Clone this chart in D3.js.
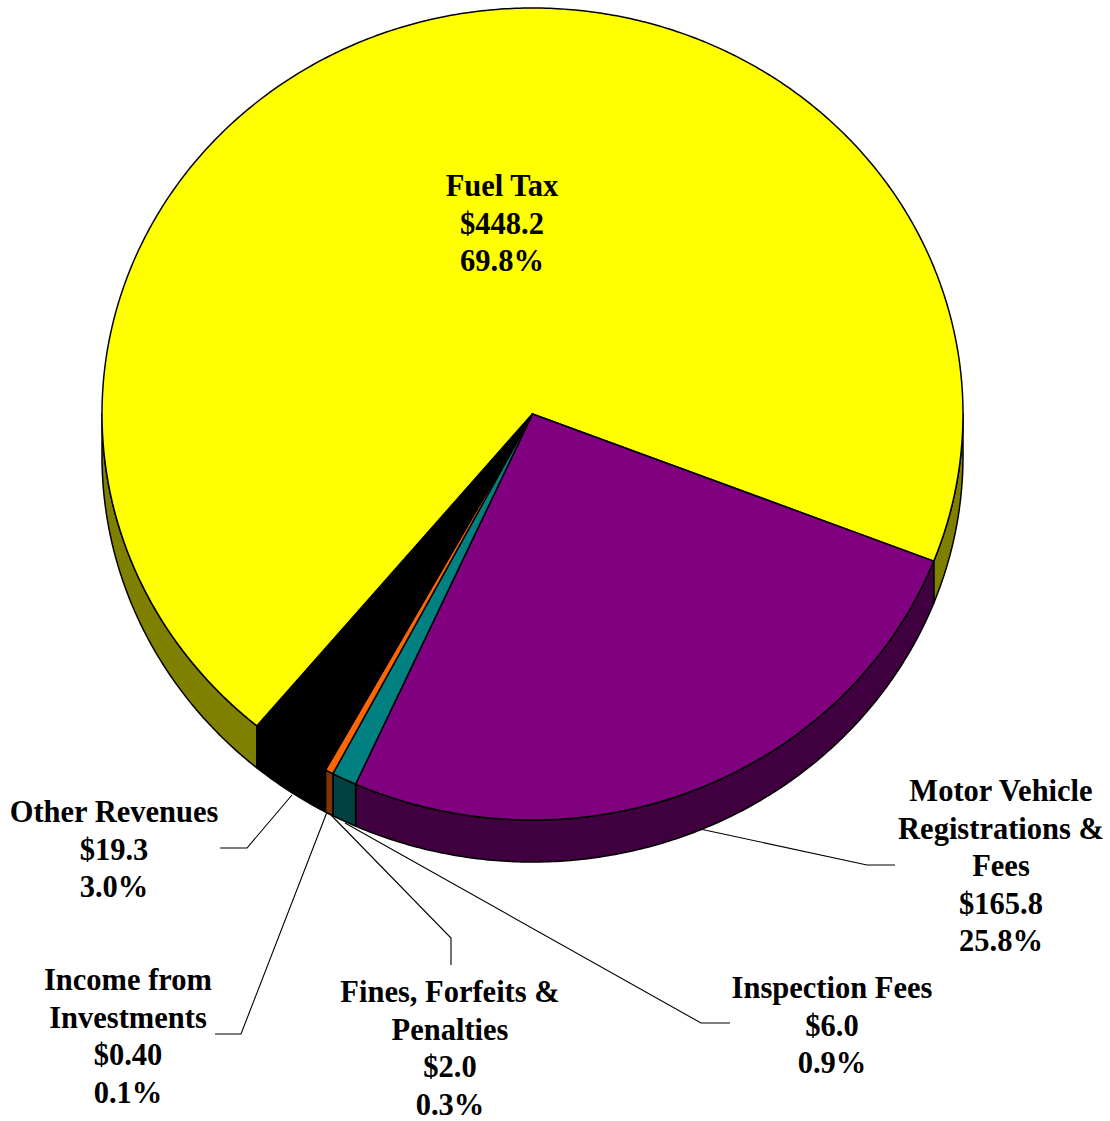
<!DOCTYPE html>
<html><head><meta charset="utf-8">
<script src="https://cdn.jsdelivr.net/npm/d3@7"></script>
<style>html,body{margin:0;padding:0;background:#fff}svg{display:block}text{font-family:"Liberation Serif",serif;font-weight:bold;font-size:30.5px;fill:#000;text-anchor:middle}</style>
</head><body><div id="c"></div>
<script>
const categories=["Fuel Tax","Motor Vehicle Registrations & Fees","Inspection Fees","Fines, Forfeits & Penalties","Income from Investments","Other Revenues"];
const values=[448.2,165.8,6.0,2.0,0.40,19.3];
const valueLabels=["$448.2","$165.8","$6.0","$2.0","$0.40","$19.3"];
const percentLabels=["69.8%","25.8%","0.9%","0.3%","0.1%","3.0%"];
const topColors=["#ffff00","#800080","#008080","#ff6600","#000000","#000000"];
const wallColors=["#808000","#400040","#004040","#803300","#000000","#000000"];
const labelLines=[["Fuel Tax"],["Motor Vehicle","Registrations &","Fees"],["Inspection Fees"],["Fines, Forfeits &","Penalties"],["Income from","Investments"],["Other Revenues"]];
const labelAnchors=[[502,196],[1001,801],[832,998],[450,1002],[128,990],[114,822]];
const leaders=[null,[[895,865],[867,865],[700,829]],[[730,1023],[701,1023],[345,823]],[[451,965],[451,938],[331,815]],[[215,1034],[241,1034],[327,812]],[[220,848],[247,848],[292,795]]];

const W=1110,H=1121,depth=42,lineH=37.6;
const sx=d3.scaleLinear([-1,1],[102,963]);
const sy=d3.scaleLinear([-1,1],[8,820]);
const deg=Math.PI/180;
const pie=d3.pie().sort(null).startAngle(-140.2*deg).endAngle(219.8*deg);
const arcs=pie(values);
const px=(t)=>sx(Math.sin(t)),py=(t,d=0)=>sy(-Math.cos(t))+d;
function samples(a,b){const n=Math.max(2,Math.ceil(Math.abs(b-a)/deg*2));return d3.range(n+1).map(i=>a+(b-a)*i/n);}
const line=d3.line();
const svg=d3.select("#c").append("svg").attr("width",W).attr("height",H).attr("viewBox",`0 0 ${W} ${H}`);
const gw=svg.append("g"),gt=svg.append("g"),gl=svg.append("g"),gx=svg.append("g");
function visible(a,b){
  const out=[];
  for(const k of [-1,0,1]){
    const lo=Math.max(a,Math.PI/2+k*2*Math.PI),hi=Math.min(b,1.5*Math.PI+k*2*Math.PI);
    if(hi>lo)out.push([lo,hi]);
  }
  return out;
}
arcs.forEach((d,i)=>{
  visible(d.startAngle,d.endAngle).forEach(([a,b])=>{
    const ts=samples(a,b);
    const pts=ts.map(t=>[px(t),py(t)]).concat(ts.slice().reverse().map(t=>[px(t),py(t,depth)]));
    gw.append("path").attr("d",line(pts)+"Z").attr("fill",wallColors[i]).attr("stroke","#000").attr("stroke-width",1.5).attr("stroke-linejoin","round");
  });
});
arcs.forEach((d,i)=>{
  const pts=[[sx(0),sy(0)]].concat(samples(d.startAngle,d.endAngle).map(t=>[px(t),py(t)]));
  gt.append("path").attr("d",line(pts)+"Z").attr("fill",topColors[i]).attr("stroke","#000").attr("stroke-width",1.5).attr("stroke-linejoin","round");
});
leaders.forEach(l=>{if(l)gl.append("path").attr("d",line(l)).attr("fill","none").attr("stroke","#000").attr("stroke-width",1.1);});
categories.forEach((c,i)=>{
  const [x,y]=labelAnchors[i];
  const rows=labelLines[i].concat([valueLabels[i],percentLabels[i]]);
  const t=gx.append("text").attr("aria-label",c);
  rows.forEach((r,j)=>t.append("tspan").attr("x",x).attr("y",y+j*lineH).text(r));
});
</script></body></html>
